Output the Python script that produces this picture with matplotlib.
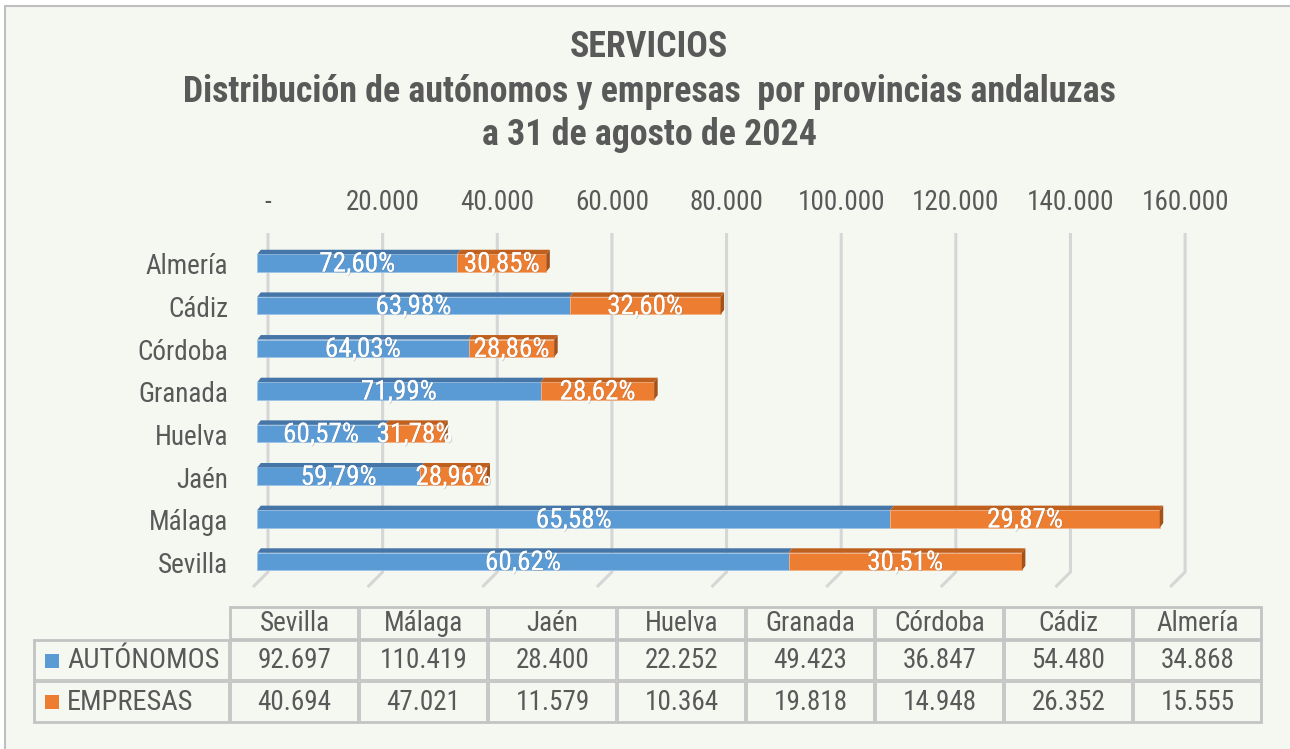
import matplotlib
matplotlib.use("Agg")
import matplotlib.pyplot as plt
from matplotlib import font_manager, patheffects
from matplotlib.patches import Rectangle, Polygon
from matplotlib.lines import Line2D
from matplotlib.transforms import IdentityTransform, offset_copy

# data (table order, bottom bar first)
provincias = ['Sevilla', 'Málaga', 'Jaén', 'Huelva', 'Granada', 'Córdoba', 'Cádiz', 'Almería']
autonomos = [92697, 110419, 28400, 22252, 49423, 36847, 54480, 34868]
empresas = [40694, 47021, 11579, 10364, 19818, 14948, 26352, 15555]
pct_autonomos = ['60,62%', '65,58%', '59,79%', '60,57%', '71,99%', '64,03%', '63,98%', '72,60%']
pct_empresas = ['30,51%', '29,87%', '28,96%', '31,78%', '28,62%', '28,86%', '32,60%', '30,85%']
x_ticks = [0, 20000, 40000, 60000, 80000, 100000, 120000, 140000, 160000]
x_ticklabels = ['-', '20.000', '40.000', '60.000', '80.000', '100.000', '120.000', '140.000', '160.000']
series_names = ['AUTÓNOMOS', 'EMPRESAS']

BLUE, ORANGE = '#5B9BD5', '#ED7D31'
BLUE_TOP, ORANGE_TOP, ORANGE_SIDE = '#4676A8', '#C0601F', '#A3521A'
TXT = '#595959'
BG = '#F4F8F1'

# narrow sans like Arial Narrow
names = {f.name for f in font_manager.fontManager.ttflist}
FONT = 'Liberation Sans'
for cand in ['Liberation Sans Narrow', 'Arial Narrow', 'Roboto Condensed', 'PT Sans Narrow',
             'Archivo Narrow', 'Open Sans Condensed', 'IBM Plex Sans Condensed']:
    if cand in names:
        FONT = cand
        break
plt.rcParams['font.family'] = [FONT, 'DejaVu Sans']

W, H = 1290, 749
fig = plt.figure(figsize=(W / 100, H / 100), dpi=100)
fig.patch.set_facecolor('white')
ident = IdentityTransform()

def py(y_top):
    # pixel row measured from the top -> display y
    return H - y_top

# chart area border
fig.add_artist(Rectangle((5, -20), W + 20, py(6) + 20, transform=ident,
                         facecolor=BG, edgecolor='#BFBFBF', lw=1.5, zorder=-5))

# titles
fs_title = 25.8
fig.text(649 / W, py(57) / H, 'SERVICIOS', ha='center', va='baseline',
         fontsize=fs_title, fontweight='bold', color=TXT)
fig.text(649 / W, py(102) / H, 'Distribución de autónomos y empresas  por provincias andaluzas',
         ha='center', va='baseline', fontsize=fs_title, fontweight='bold', color=TXT)
fig.text(649 / W, py(145) / H, 'a 31 de agosto de 2024', ha='center', va='baseline',
         fontsize=fs_title, fontweight='bold', color=TXT)

# main axes: front face of bars
x0_px, x1_px = 257.3, 1174.4
ax_top, ax_bot = 231, 582
ax = fig.add_axes([x0_px / W, py(ax_bot) / H, (x1_px - x0_px) / W, (ax_bot - ax_top) / H])
ax.set_xlim(0, 160000)
ax.set_ylim(-0.48, 7.75)
ax.autoscale(False)
ax.axis('off')

FS = 19.5
ypos = list(range(len(provincias)))
bh = 0.41
bars_a = ax.barh(ypos, autonomos, height=bh, color=BLUE, edgecolor='#9CC3E6', lw=0.6, zorder=3)
bars_e = ax.barh(ypos, empresas, left=autonomos, height=bh, color=ORANGE, edgecolor='#F4B183',
                 lw=0.6, zorder=3)

# 3d depth faces
dx, dy = 3.5, 4.5
for ba, be in zip(bars_a, bars_e):
    for b, ctop in ((ba, BLUE_TOP), (be, ORANGE_TOP)):
        (xl, yb), (xr, yt) = ax.transData.transform(
            [(b.get_x(), b.get_y()), (b.get_x() + b.get_width(), b.get_y() + b.get_height())])
        ax.add_patch(Polygon([(xl, yt), (xr, yt), (xr + dx, yt + dy), (xl + dx, yt + dy)],
                             closed=True, transform=ident, facecolor=ctop, edgecolor='none',
                             clip_on=False, zorder=3))
    (xl, yb), (xr, yt) = ax.transData.transform(
        [(be.get_x(), be.get_y()), (be.get_x() + be.get_width(), be.get_y() + be.get_height())])
    ax.add_patch(Polygon([(xr, yb), (xr, yt), (xr + dx, yt + dy), (xr + dx, yb + dy)],
                         closed=True, transform=ident, facecolor=ORANGE_SIDE, edgecolor='none',
                         clip_on=False, zorder=3))

# back wall gridlines with floor foot
wall = 10.7
for v in x_ticks:
    xd = ax.transData.transform((v, 0))[0] + wall
    ax.add_line(Line2D([xd, xd, xd - 15], [py(233), py(572), py(587)], transform=ident,
                       color='#D6D6D6', lw=2.2, solid_capstyle='butt', clip_on=False, zorder=1))

# top value labels
lab_tr = offset_copy(ax.get_xaxis_transform(), fig=fig, x=wall, y=0, units='dots')
lab_y = ax.transAxes.inverted().transform((0, py(210)))[1]
for v, t in zip(x_ticks, x_ticklabels):
    ax.text(v, lab_y, t, transform=lab_tr, ha='center', va='baseline', fontsize=FS, color=TXT)

# category labels
cat_tr = offset_copy(ax.transData, fig=fig, x=-29, y=-4, units='dots')
for i, name in zip(ypos, provincias):
    ax.text(0, i, name, transform=cat_tr, ha='right', va='center', fontsize=FS, color=TXT)

# percentage labels
shadow = [patheffects.withSimplePatchShadow(offset=(0.6, -0.6), shadow_rgbFace='#7F7F7F', alpha=0.35),
          patheffects.Normal()]
pct_tr = offset_copy(ax.transData, fig=fig, x=0, y=-1, units='dots')
for i in ypos:
    ax.text(autonomos[i] / 2, i, pct_autonomos[i], transform=pct_tr, ha='center', va='center',
            fontsize=FS, color='white', zorder=5, path_effects=shadow)
    ax.text(autonomos[i] + empresas[i] / 2, i, pct_empresas[i], transform=pct_tr, ha='center',
            va='center', fontsize=FS, color='white', zorder=5, path_effects=shadow)

# data table
col_x0, col_w = 230, 129
row_edges = [607, 640, 681, 723]
lab_x0 = 34
EDGE = '#C3C3C3'

def cell(x, y, w, h):
    fig.add_artist(Rectangle((x + 1.2, py(y + h) + 1.2), w - 2.4, h - 2.4, transform=ident,
                             facecolor='none', edgecolor=EDGE, lw=1.3))

fig.add_artist(Rectangle((col_x0, py(row_edges[1])), col_w * len(provincias),
                         row_edges[1] - row_edges[0], transform=ident,
                         facecolor='none', edgecolor=EDGE, lw=1.3))
fig.add_artist(Rectangle((lab_x0, py(row_edges[3])), col_x0 + col_w * len(provincias) - lab_x0,
                         row_edges[3] - row_edges[1], transform=ident,
                         facecolor='none', edgecolor=EDGE, lw=1.3))

for j, name in enumerate(provincias):
    x = col_x0 + j * col_w
    cell(x, row_edges[0], col_w, row_edges[1] - row_edges[0])
    fig.text((x + col_w / 2) / W, py((row_edges[0] + row_edges[1]) / 2) / H, name,
             ha='center', va='center', fontsize=FS, color=TXT)

for r, (vals, sname, col) in enumerate(zip([autonomos, empresas], series_names, [BLUE, ORANGE])):
    ytop, ybot = row_edges[r + 1], row_edges[r + 2]
    ymid = (ytop + ybot) / 2
    cell(lab_x0, ytop, col_x0 - lab_x0, ybot - ytop)
    fig.add_artist(Rectangle((45, py(ymid) - 7), 14, 14, transform=ident,
                             facecolor=col, edgecolor='none'))
    fig.text(67 / W, py(ymid) / H, sname, ha='left', va='center', fontsize=20.5, color=TXT)
    for j, v in enumerate(vals):
        x = col_x0 + j * col_w
        cell(x, ytop, col_w, ybot - ytop)
        fig.text((x + col_w / 2) / W, py(ymid) / H, f'{v:,}'.replace(',', '.'),
                 ha='center', va='center', fontsize=FS, color=TXT)

fig.savefig('out.png', dpi=100, facecolor=fig.get_facecolor())
